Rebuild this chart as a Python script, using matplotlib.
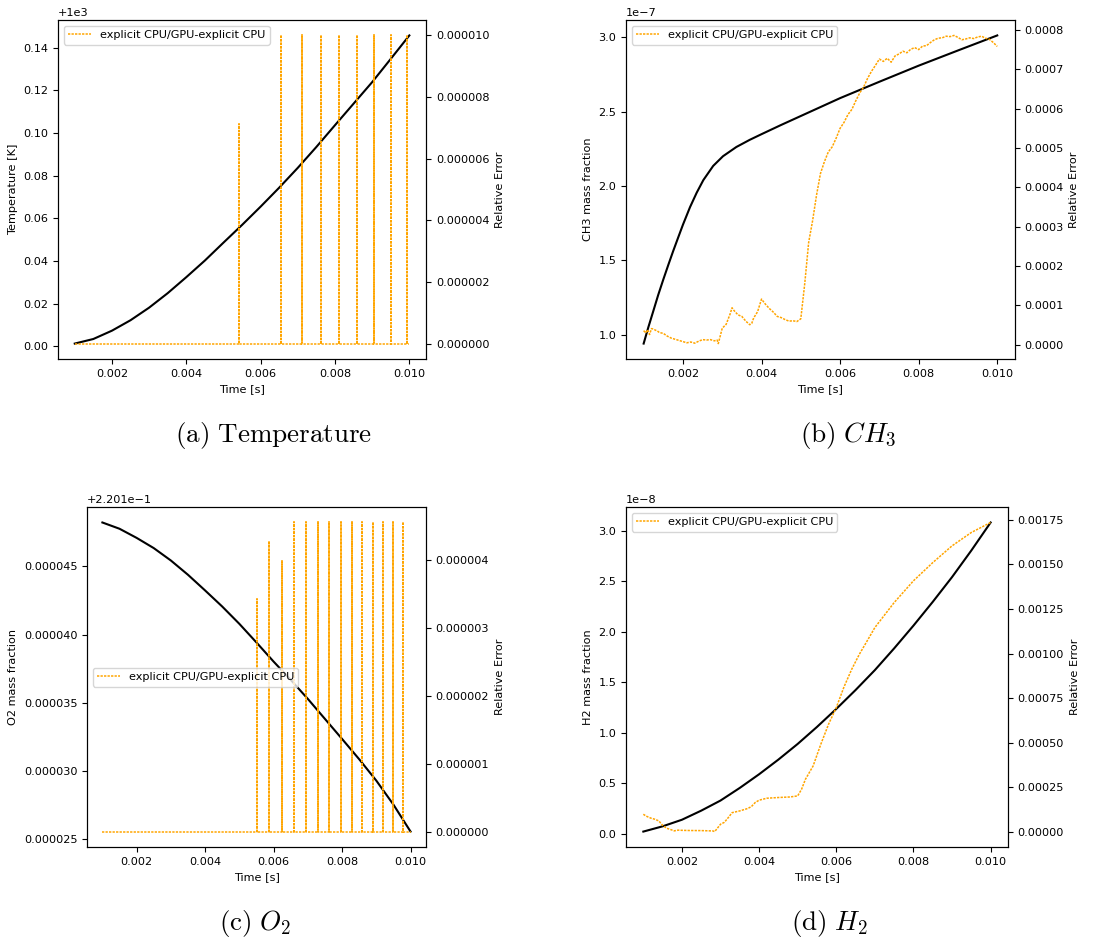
import matplotlib
matplotlib.use("Agg")
import matplotlib.pyplot as plt
from matplotlib.ticker import ScalarFormatter

plt.rcParams['font.size'] = 8.1
plt.rcParams['mathtext.fontset'] = 'cm'

# --- temperature ---------------------------------------------------------
t_temp = [0.001, 0.0015, 0.002, 0.0025, 0.003, 0.0035, 0.004, 0.0045, 0.005, 0.0055,
          0.006, 0.0065, 0.007, 0.0075, 0.008, 0.0085, 0.009, 0.0095, 0.010]
temperature = [1000.00125, 1000.0034, 1000.0073, 1000.0122, 1000.0181, 1000.0249,
               1000.0324, 1000.0402, 1000.0486, 1000.0569, 1000.0655, 1000.0744,
               1000.0837, 1000.0935, 1000.1037, 1000.1138, 1000.1239, 1000.1348,
               1000.1458]
temp_spike_t = [0.00542, 0.00656, 0.00710, 0.00762, 0.00812, 0.00860, 0.00906, 0.00950, 0.00994]
temp_spike_v = [7.12e-6, 1.0e-5, 1.0e-5, 1.0e-5, 1.0e-5, 1.0e-5, 1.0e-5, 1.0e-5, 1.0e-5]

# --- CH3 -----------------------------------------------------------------
t_ch3 = [0.001, 0.00112, 0.00125, 0.00137, 0.0015, 0.00163, 0.00175, 0.00188, 0.002,
         0.00218, 0.00235, 0.00252, 0.00277, 0.00302, 0.00336, 0.0037, 0.004, 0.0045,
         0.005, 0.0055, 0.006, 0.007, 0.008, 0.009, 0.010]
ch3 = [0.942e-7, 1.052e-7, 1.164e-7, 1.268e-7, 1.372e-7, 1.472e-7, 1.562e-7, 1.655e-7,
       1.740e-7, 1.858e-7, 1.955e-7, 2.040e-7, 2.135e-7, 2.200e-7, 2.262e-7, 2.31e-7,
       2.348e-7, 2.41e-7, 2.47e-7, 2.53e-7, 2.59e-7, 2.70e-7, 2.808e-7, 2.91e-7, 3.011e-7]
t_ch3_err = [0.0010, 0.00105, 0.0011, 0.00115, 0.0012, 0.00125, 0.0013, 0.00135,
             0.0014, 0.0015, 0.0016, 0.0017, 0.0018, 0.0019, 0.0020, 0.0021, 0.0022,
             0.0023, 0.0024, 0.0025, 0.0026, 0.0027, 0.0028, 0.00287, 0.0029, 0.0030,
             0.0031, 0.0032, 0.00325, 0.0033, 0.0034, 0.0035, 0.0036, 0.0037, 0.00375,
             0.0038, 0.0039, 0.0040, 0.0041, 0.0042, 0.0043, 0.0044, 0.0045, 0.0046,
             0.0047, 0.0048, 0.0049, 0.0050, 0.0051, 0.0052, 0.0053, 0.0054, 0.0055,
             0.0056, 0.0057, 0.0058, 0.0059, 0.0060, 0.0061, 0.0062, 0.0063, 0.0064,
             0.0065, 0.0066, 0.0067, 0.0068, 0.0069, 0.0070, 0.0071, 0.0072, 0.0073,
             0.0074, 0.0075, 0.0076, 0.0077, 0.0078, 0.0079, 0.0080, 0.0081, 0.0082,
             0.0083, 0.0084, 0.0085, 0.0086, 0.0087, 0.0088, 0.0089, 0.0090, 0.0091,
             0.0092, 0.0093, 0.0094, 0.0095, 0.0096, 0.0097, 0.0098, 0.0099, 0.0100]
ch3_err = [3.6e-5, 3.0e-5, 3.8e-5, 2.6e-5, 4.1e-5, 4.0e-5, 3.7e-5, 3.5e-5,
           3.1e-5, 2.9e-5, 2.2e-5, 1.7e-5, 1.4e-5, 1.1e-5, 0.8e-5, 0.5e-5, 0.7e-5,
           0.4e-5, 0.9e-5, 1.3e-5, 1.2e-5, 1.3e-5, 1.0e-5, 1.2e-5, 0.3e-5, 4.2e-5,
           5.2e-5, 7.8e-5, 9.4e-5, 8.7e-5, 7.6e-5, 7.2e-5, 6.0e-5, 5.1e-5, 5.4e-5,
           6.8e-5, 8.4e-5, 11.6e-5, 10.3e-5, 9.2e-5, 8.3e-5, 7.2e-5, 6.9e-5, 6.4e-5,
           6.0e-5, 6.1e-5, 5.9e-5, 6.6e-5, 15.5e-5, 26.0e-5, 31.5e-5, 38.0e-5, 43.5e-5,
           46.5e-5, 49.0e-5, 50.3e-5, 52.5e-5, 55.0e-5, 56.5e-5, 58.5e-5, 59.8e-5, 62.0e-5,
           64.0e-5, 65.5e-5, 67.7e-5, 69.5e-5, 71.0e-5, 72.6e-5, 72.0e-5, 72.8e-5, 71.8e-5,
           73.4e-5, 73.9e-5, 74.6e-5, 74.2e-5, 75.1e-5, 75.5e-5, 75.0e-5, 75.9e-5, 76.0e-5,
           76.8e-5, 77.5e-5, 77.9e-5, 78.0e-5, 78.4e-5, 78.3e-5, 78.6e-5, 78.1e-5, 77.5e-5,
           77.7e-5, 78.0e-5, 77.8e-5, 78.2e-5, 78.4e-5, 77.9e-5, 77.6e-5, 76.8e-5, 75.8e-5]

# --- O2 ------------------------------------------------------------------
t_o2 = [0.001, 0.0015, 0.002, 0.0025, 0.003, 0.0035, 0.004, 0.0045, 0.005, 0.0055,
        0.006, 0.0065, 0.007, 0.0075, 0.008, 0.0085, 0.009, 0.0095, 0.010]
o2 = [0.22014823, 0.22014777, 0.22014710, 0.22014635, 0.22014544, 0.22014439,
      0.22014324, 0.22014206, 0.22014079, 0.22013942, 0.22013802, 0.22013668,
      0.22013528, 0.22013381, 0.22013234, 0.22013085, 0.22012928, 0.22012752,
      0.22012554]
o2_spike_t = [0.005506, 0.005876, 0.006256, 0.006606, 0.006956, 0.007297, 0.007628,
              0.007959, 0.008280, 0.008591, 0.008893, 0.009195, 0.009487, 0.009779]
o2_spike_v = [3.43e-6, 4.28e-6, 3.98e-6, 4.55e-6, 4.55e-6, 4.55e-6, 4.55e-6,
              4.55e-6, 4.55e-6, 4.55e-6, 4.55e-6, 4.55e-6, 4.55e-6, 4.55e-6]

# --- H2 ------------------------------------------------------------------
t_h2 = [0.001, 0.0015, 0.002, 0.0025, 0.003, 0.0035, 0.004, 0.0045, 0.005, 0.0055,
        0.006, 0.0065, 0.007, 0.0075, 0.008, 0.0085, 0.009, 0.0095, 0.010]
h2 = [0.023e-8, 0.075e-8, 0.14e-8, 0.23e-8, 0.33e-8, 0.455e-8, 0.59e-8, 0.735e-8,
      0.89e-8, 1.058e-8, 1.236e-8, 1.423e-8, 1.62e-8, 1.835e-8, 2.06e-8, 2.295e-8,
      2.54e-8, 2.803e-8, 3.08e-8]
t_h2_err = [0.0010, 0.00105, 0.0011, 0.0012, 0.0013, 0.0014, 0.0015, 0.0016, 0.0017,
            0.0018, 0.0019, 0.0020, 0.0022, 0.0025, 0.0028, 0.00285, 0.0030, 0.0031,
            0.0032, 0.0033, 0.0035, 0.0037, 0.0038, 0.0039, 0.0040, 0.0042, 0.0045,
            0.0048, 0.0050, 0.0051, 0.0052, 0.0054, 0.0056, 0.0058, 0.0060, 0.0062,
            0.0064, 0.0066, 0.0068, 0.0070, 0.0075, 0.0080, 0.0085, 0.0090, 0.0095, 0.0100]
h2_err = [9.9e-5, 9.2e-5, 8.6e-5, 7.7e-5, 7.1e-5, 6.2e-5, 3.7e-5, 2.1e-5, 1.4e-5,
          0.6e-5, 1.0e-5, 0.9e-5, 0.8e-5, 0.75e-5, 0.56e-5, 0.2e-5, 4.3e-5, 5.4e-5,
          8.0e-5, 10.8e-5, 11.8e-5, 13.1e-5, 14.2e-5, 16.5e-5, 17.8e-5, 18.9e-5, 19.3e-5,
          19.6e-5, 20.2e-5, 23.9e-5, 29.5e-5, 37.0e-5, 49.2e-5, 60.4e-5, 69.7e-5, 81.3e-5,
          91.2e-5, 99.7e-5, 107.1e-5, 114.6e-5, 128.6e-5, 140.8e-5, 151.0e-5, 160.4e-5,
          167.9e-5, 173.5e-5]

legend_label = 'explicit CPU/GPU-explicit CPU'


def spike_series(times, heights, start, end):
    # zero error everywhere except isolated one-sample jumps
    xs, ys = [start], [0.0]
    for t, h in zip(times, heights):
        xs += [t, t, t]
        ys += [0.0, h, 0.0]
    xs.append(end)
    ys.append(0.0)
    return xs, ys


def panel(rect, t, y, ylabel, et, ev, legend_loc, plain_left=False, plain_right=False):
    ax = fig.add_axes(rect)
    ax.plot(t, y, color='black', lw=1.5)
    ax.set_xlabel('Time [s]')
    ax.set_ylabel(ylabel)
    ax.set_xticks([0.002, 0.004, 0.006, 0.008, 0.010])
    if plain_left:
        ax.ticklabel_format(axis='y', style='plain')
    ax2 = ax.twinx()
    ax2.plot(et, ev, color='orange', ls=(0, (1.5, 0.8)), lw=1.1, label=legend_label)
    ax2.set_ylabel('Relative Error')
    if plain_right:
        fmt = ScalarFormatter(useOffset=False)
        fmt.set_scientific(False)
        ax2.yaxis.set_major_formatter(fmt)
    ax2.legend(loc=legend_loc)
    return ax, ax2


fig = plt.figure(figsize=(11.18, 9.40), dpi=100)

ta, va = spike_series(temp_spike_t, temp_spike_v, 0.001, 0.010)
panel([0.0519, 0.6181, 0.3292, 0.3606], t_temp, temperature, 'Temperature [K]',
      ta, va, 'upper left', plain_right=True)

panel([0.5599, 0.6181, 0.3479, 0.3606], t_ch3, ch3, 'CH3 mass fraction',
      t_ch3_err, ch3_err, 'upper left')

tc, vc = spike_series(o2_spike_t, o2_spike_v, 0.001, 0.010)
panel([0.0778, 0.0989, 0.3032, 0.3617], t_o2, o2, 'O2 mass fraction',
      tc, vc, 'center left', plain_left=True, plain_right=True)

panel([0.5599, 0.0989, 0.3417, 0.3617], t_h2, h2, 'H2 mass fraction',
      t_h2_err, h2_err, 'upper left')

cap = dict(fontsize=19.5, ha='center', va='center')
fig.text(0.245, 0.537, r'$\mathrm{(a)\ Temperature}$', **cap)
fig.text(0.759, 0.537, r'$\mathrm{(b)}\ CH_3$', **cap)
fig.text(0.228, 0.018, r'$\mathrm{(c)}\ O_2$', **cap)
fig.text(0.742, 0.018, r'$\mathrm{(d)}\ H_2$', **cap)

fig.savefig('out.png', dpi=100)
